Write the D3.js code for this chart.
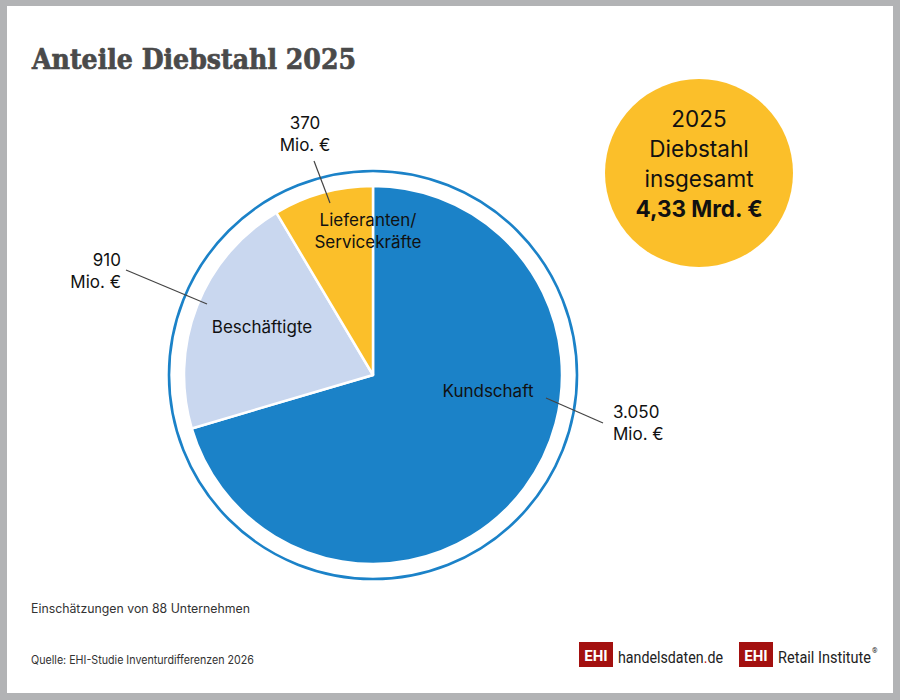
<!DOCTYPE html>
<html><head><meta charset="utf-8">
<script src="https://cdn.jsdelivr.net/npm/d3@7"></script>
<style>body{margin:0;background:#fff}svg{display:block}</style>
</head><body>
<script>
// ---- data ----
const categories = ["Kundschaft", "Beschäftigte", "Lieferanten/\nServicekräfte"];
const values = [3050, 910, 370];
const valueLabels = ["3.050", "910", "370"];
const unit = "Mio. €";
const totalLines = ["2025", "Diebstahl", "insgesamt"];
const totalValue = "4,33 Mrd. €";
const title = "Anteile Diebstahl 2025";
const note = "Einschätzungen von 88 Unternehmen";
const source = "Quelle: EHI-Studie Inventurdifferenzen 2026";
const colors = ["#1b82c8", "#c9d7ef", "#fbbf2a"];

const W = 900, H = 700;
const svg = d3.select("body").append("svg").attr("width", W).attr("height", H);
const FONT = "Inter, 'Noto Sans', sans-serif";

// frame
svg.append("rect").attr("width", W).attr("height", H).attr("fill", "#b2b3b5");
svg.append("rect").attr("x", 7).attr("y", 6).attr("width", 886).attr("height", 687).attr("fill", "#fff");

// title
svg.append("text").attr("x", 32).attr("y", 69).text(title)
  .attr("font-family", "'DejaVu Serif', serif").attr("font-weight", "bold")
  .attr("font-size", 27).attr("fill", "#4a4a4a")
  .attr("stroke", "#4a4a4a").attr("stroke-width", 0.7)
  .attr("textLength", 324).attr("lengthAdjust", "spacingAndGlyphs");

// pie
const cx = 373, cy = 375, R = 189;
const g = svg.append("g").attr("transform", `translate(${cx},${cy})`);
const pie = d3.pie().sort(null).value(d => d)(values);
const arc = d3.arc().innerRadius(0).outerRadius(R);
g.selectAll("path.slice").data(pie).join("path").attr("class", "slice")
  .attr("d", arc).attr("fill", (d, i) => colors[i])
  .attr("stroke", "#fff").attr("stroke-width", 2.5).attr("stroke-linejoin", "round");
g.append("circle").attr("r", 204).attr("fill", "none").attr("stroke", "#1b82c8").attr("stroke-width", 2.6);

// label layout
const layout = [
  { name: [488, 397], val: [613, 418], anchor: "start", line: [[546, 398], [603, 423]] },
  { name: [262, 333], val: [121, 266], anchor: "end", line: [[207, 304], [126, 270]] },
  { name: [368, 226], val: [305, 129], anchor: "middle", line: [[330, 203], [314, 161]] }
];
const LH = 21.5;
layout.forEach((L, i) => {
  svg.append("line").attr("x1", L.line[0][0]).attr("y1", L.line[0][1])
    .attr("x2", L.line[1][0]).attr("y2", L.line[1][1])
    .attr("stroke", "#444").attr("stroke-width", 1.2);
  const nm = categories[i].split("\n");
  nm.forEach((t, k) => svg.append("text").attr("x", L.name[0]).attr("y", L.name[1] + k * LH)
    .attr("text-anchor", "middle").attr("font-family", FONT).attr("font-size", 17)
    .attr("fill", "#111").text(t));
  [valueLabels[i], unit].forEach((t, k) => svg.append("text").attr("x", L.val[0]).attr("y", L.val[1] + k * LH)
    .attr("text-anchor", L.anchor).attr("font-family", FONT).attr("font-size", 17)
    .attr("fill", "#111").text(t));
});

// total badge
svg.append("circle").attr("cx", 699).attr("cy", 173).attr("r", 94).attr("fill", "#fbbf2a");
totalLines.forEach((t, k) => svg.append("text").attr("x", 699).attr("y", 127 + k * 30)
  .attr("text-anchor", "middle").attr("font-family", FONT).attr("font-size", 22.5)
  .attr("fill", "#111").text(t));
svg.append("text").attr("x", 699).attr("y", 217).attr("text-anchor", "middle")
  .attr("font-family", FONT).attr("font-size", 22.5).attr("font-weight", "bold")
  .attr("fill", "#111").text(totalValue);

// footer
svg.append("text").attr("x", 31).attr("y", 613).attr("font-family", FONT).attr("font-size", 12.5)
  .attr("fill", "#333").attr("textLength", 219).attr("lengthAdjust", "spacingAndGlyphs").text(note);
svg.append("text").attr("x", 31).attr("y", 664).attr("font-family", FONT).attr("font-size", 11.5)
  .attr("fill", "#333").attr("textLength", 223).attr("lengthAdjust", "spacingAndGlyphs").text(source);

// logos
function ehiBox(x) {
  svg.append("rect").attr("x", x).attr("y", 642).attr("width", 34).attr("height", 25).attr("fill", "#a3100f");
  svg.append("text").attr("x", x + 17).attr("y", 660.5).attr("text-anchor", "middle")
    .attr("font-family", "Roboto, sans-serif").attr("font-weight", "bold").attr("font-size", 15)
    .attr("fill", "#fff").text("EHI");
}
function wordmark(x, parts, width) {
  const grp = svg.append("g");
  let cur = 0;
  parts.forEach(p => {
    const t = grp.append("text").attr("x", cur).attr("y", 0).attr("font-family", "Roboto, sans-serif")
      .attr("font-size", 17).attr("fill", p[1]).text(p[0]);
    cur += t.node().getComputedTextLength();
  });
  grp.attr("transform", `translate(${x},663) scale(${width / cur},1)`);
  return x + width;
}
ehiBox(579);
wordmark(618, [["handelsdaten", "#222"], [".", "#c0130f"], ["de", "#222"]], 105);
ehiBox(739);
const end = wordmark(778, [["Retail Institute", "#222"]], 93);
svg.append("text").attr("x", end + 1).attr("y", 653).attr("font-family", "Roboto, sans-serif")
  .attr("font-size", 7).attr("fill", "#222").text("®");
</script>
</body></html>
